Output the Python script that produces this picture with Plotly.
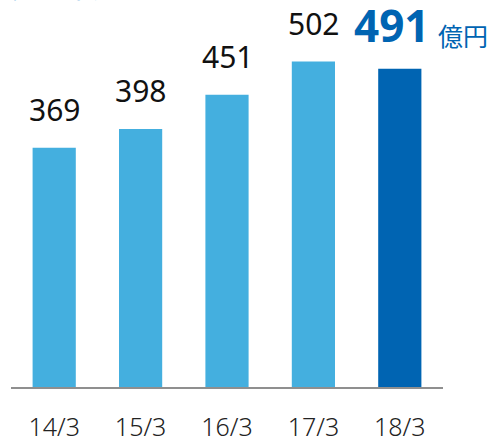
import plotly.graph_objects as go

categories = ["14/3", "15/3", "16/3", "17/3", "18/3"]
values = [369, 398, 451, 502, 491]
unit_label = "億円"
title_text = "売上高"

light = "#44AFDF"
dark = "#0064B2"
colors = [light, light, light, light, dark]

fig = go.Figure()
fig.add_trace(go.Bar(
    x=categories, y=values, marker=dict(color=colors, line=dict(width=0)),
    hoverinfo="skip",
))

font_family = "Noto Sans, Noto Sans CJK JP, sans-serif"

for i, (c, v) in enumerate(zip(categories, values)):
    if i < len(values) - 1:
        fig.add_annotation(x=c, y=v, text=str(v), showarrow=False,
                           yanchor="bottom", yshift=16,
                           font=dict(size=30, color="#111111", family=font_family))
    else:
        fig.add_annotation(x=c, y=v, text="<b>%d</b>" % v, showarrow=False,
                           yanchor="bottom", xshift=-8, yshift=12,
                           font=dict(size=44, color=dark, family=font_family))
        fig.add_annotation(x=c, y=v, text=unit_label, showarrow=False,
                           xanchor="left", yanchor="bottom", xshift=36, yshift=14,
                           font=dict(size=25, color=dark, family="Noto Sans CJK JP"))

fig.add_annotation(xref="paper", yref="paper", x=-0.003, y=1.0, text=title_text,
                   showarrow=False, xanchor="left", yanchor="bottom", yshift=-8,
                   font=dict(size=31, color="#1E8AD0", family="Noto Sans CJK JP"))

fig.update_layout(
    width=496, height=437,
    margin=dict(l=11, r=53, t=0, b=50, autoexpand=False),
    paper_bgcolor="white", plot_bgcolor="white",
    bargap=0.5, showlegend=False,
    xaxis=dict(showline=True, linecolor="#8F8F8F", linewidth=2,
               showgrid=False, ticks="", ticklabelstandoff=17, automargin=False,
               tickfont=dict(size=25, color="#222222", family=font_family, weight=300),
               range=[-0.5, 4.5], fixedrange=True),
    yaxis=dict(range=[0, 597], visible=False, showgrid=False, zeroline=False,
               fixedrange=True, automargin=False),
)

fig.write_html("out.html", config={"displayModeBar": False})

with open("out.html", "r", encoding="utf-8") as f:
    html = f.read()
html = html.replace("<head>", "<head><style>html,body{margin:0;padding:0;overflow:hidden;}</style>", 1)
with open("out.html", "w", encoding="utf-8") as f:
    f.write(html)
